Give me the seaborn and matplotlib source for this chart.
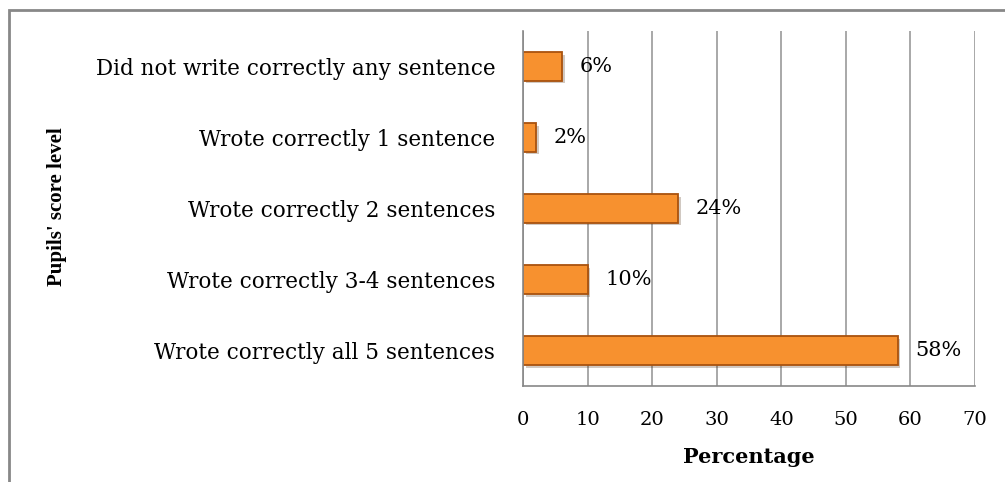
import matplotlib
matplotlib.use("Agg")
import matplotlib.pyplot as plt
import matplotlib.patheffects as pe
from matplotlib.patches import Rectangle
import seaborn as sns
import pandas as pd

categories = [
    "Did not write correctly any sentence",
    "Wrote correctly 1 sentence",
    "Wrote correctly 2 sentences",
    "Wrote correctly 3-4 sentences",
    "Wrote correctly all 5 sentences",
]
percentages = [6, 2, 24, 10, 58]
value_labels = ["6%", "2%", "24%", "10%", "58%"]
x_ticks = [0, 10, 20, 30, 40, 50, 60, 70]

df = pd.DataFrame({"level": categories, "pct": percentages})

sns.set_style("white")
# reference text is a wide serif; DejaVu Serif is the closest in width
plt.rcParams["font.family"] = ["DejaVu Serif"]
plt.rcParams["text.color"] = "black"
plt.rcParams["axes.labelcolor"] = "black"
plt.rcParams["xtick.color"] = "#888888"
plt.rcParams["xtick.labelcolor"] = "black"
plt.rcParams["ytick.labelcolor"] = "black"

fig = plt.figure(figsize=(10.05, 4.82), dpi=100)
ax = fig.add_axes([0.5204, 0.199, 0.4498, 0.7368])

sns.barplot(data=df, x="pct", y="level", orient="h", color="#F7912F",
            width=0.4, edgecolor="#A9520E", linewidth=1.3, ax=ax,
            saturation=1)
for bar in ax.patches:
    bar.set_path_effects([pe.SimplePatchShadow(offset=(2, -2), alpha=0.25),
                          pe.Normal()])

for i, (v, lab) in enumerate(zip(percentages, value_labels)):
    ax.annotate(lab, (v, i), xytext=(13, 0), textcoords="offset points",
                va="center", ha="left", fontsize=15, color="black")

ax.set_xlim(0, 70)
ax.set_ylim(4.5, -0.5)
ax.set_xticks(x_ticks)
ax.set_xticklabels([str(t) for t in x_ticks], fontsize=14)
ax.tick_params(axis="x", length=6, width=1, color="#888888", pad=12)
ax.tick_params(axis="y", which="major", length=0, pad=20, labelsize=15.5)
ax.set_yticks([-0.5, 0.5, 1.5, 2.5, 3.5, 4.5], minor=True)
ax.tick_params(axis="y", which="minor", length=7, width=1, color="#888888")

ax.xaxis.grid(True, color="#999999", linewidth=1.2)
ax.set_axisbelow(True)
for side in ["top", "right"]:
    ax.spines[side].set_visible(False)
for side in ["left", "bottom"]:
    ax.spines[side].set_color("#888888")
    ax.spines[side].set_linewidth(1.2)

ax.set_xlabel("Percentage", fontsize=15, fontweight="bold", labelpad=13,
              color="black")
ax.set_ylabel("")
fig.text(0.057, 0.571, "Pupils' score level", rotation=90, fontsize=15,
         fontweight="bold", ha="center", va="center",
         family=["Liberation Serif"])

fig.patches.append(Rectangle((9 / 1005, -0.1), 1.2, 1 - 10 / 482 + 0.1,
                             transform=fig.transFigure, fill=False,
                             edgecolor="#888888", linewidth=2))

fig.savefig("out.png", dpi=100, facecolor="white")
